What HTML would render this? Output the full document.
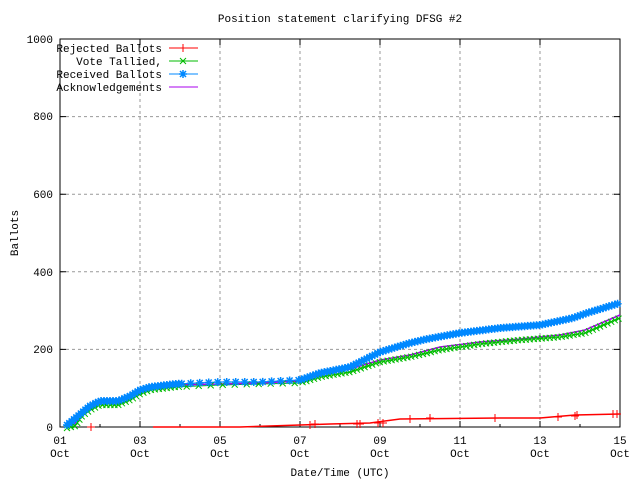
<!DOCTYPE html>
<html><head><style>body{margin:0;background:#fff}svg text{font-family:"Liberation Mono",monospace;font-size:11px}</style></head><body>
<svg id="s" width="640" height="480" xmlns="http://www.w3.org/2000/svg">
<defs>
<g id="pl"><path d="M-4 0H4M0-4V4" stroke="#f00" stroke-width="1"/></g>
<g id="xg"><path d="M-3-3L3 3M-3 3L3-3" stroke="#0b0" stroke-width="1"/></g>
<g id="st"><path d="M-4 0H4M0-4V4M-3-3L3 3M-3 3L3-3" stroke="#08f" stroke-width="1.5"/></g>
</defs>
<g stroke="#999" stroke-dasharray="3,3" stroke-width="1">
<path d="M60 349.4H620M60 271.8H620M60 194.2H620M60 116.6H620"/>
<path d="M140 39V427M220 39V427M300 39V427M380 39V427M460 39V427M540 39V427"/>
</g>
<rect x="60" y="39" width="560" height="388" fill="none" stroke="#000"/>
<g stroke="#000">
<path d="M60 349.4h6M60 271.8h6M60 194.2h6M60 116.6h6M620 349.4h-6M620 271.8h-6M620 194.2h-6M620 116.6h-6"/>
<path d="M140 427v-6M220 427v-6M300 427v-6M380 427v-6M460 427v-6M540 427v-6M140 39v6M220 39v6M300 39v6M380 39v6M460 39v6M540 39v6"/>
<path d="M100 427v-3M180 427v-3M260 427v-3M340 427v-3M420 427v-3M500 427v-3M580 427v-3"/>
</g>
<g text-anchor="end">
<text x="53" y="431">0</text><text x="53" y="353">200</text><text x="53" y="276">400</text><text x="53" y="198">600</text><text x="53" y="120">800</text><text x="53" y="43">1000</text>
</g>
<g text-anchor="middle">
<text x="60" y="444">01</text><text x="140" y="444">03</text><text x="220" y="444">05</text><text x="300" y="444">07</text><text x="380" y="444">09</text><text x="460" y="444">11</text><text x="540" y="444">13</text><text x="620" y="444">15</text>
<text x="60" y="457">Oct</text><text x="140" y="457">Oct</text><text x="220" y="457">Oct</text><text x="300" y="457">Oct</text><text x="380" y="457">Oct</text><text x="460" y="457">Oct</text><text x="540" y="457">Oct</text><text x="620" y="457">Oct</text>
<text x="340" y="476">Date/Time (UTC)</text>
<text x="340" y="22">Position statement clarifying DFSG #2</text>
</g>
<text x="18" y="233" text-anchor="middle" transform="rotate(-90 18 233)">Ballots</text>
<polyline id="pg" fill="none" stroke="#0b0" stroke-width="1" points="67,428 75,426 82,416 90,410 100,405 118,405 130,400 140,394 150,390 175,387 220,385 260,384 300,383 320,377 350,372 380,362 410,357 440,350 480,344 520,340 560,337 585,333 620,318"/>
<polyline id="pb" fill="none" stroke="#08f" stroke-width="1" points="67,425 72,421 78,416 85,410 90,406 100,401 118,401 130,396 140,390 150,387 175,384 220,382 260,382 300,380 320,373 350,367 380,352 410,343 427,339 460,333 500,328 540,325 573,318 587,313 620,303"/>
<polyline fill="none" stroke="#a0e" stroke-width="1.5" points="75,427 75,423 82,415 90,407 100,403 118,403 130,397 140,392 150,388 175,385 220,384 260,383 300,381 320,375 350,369 380,360 410,355 440,347 480,342 520,339 560,335 585,330 620,315"/>
<polyline fill="none" stroke="#f00" stroke-width="1.5" points="153,427 240,427 300,425 330,424 370,423 400,419 500,418 540,418 575,415 620,414"/>
<g id="mk">
<use href="#pl" x="91" y="427"/><use href="#pl" x="310" y="425"/><use href="#pl" x="315" y="424"/><use href="#pl" x="357" y="424"/><use href="#pl" x="360" y="424"/><use href="#pl" x="378" y="423"/><use href="#pl" x="383" y="423"/><use href="#pl" x="410" y="419"/><use href="#pl" x="430" y="418"/><use href="#pl" x="495" y="418"/><use href="#pl" x="558" y="417"/><use href="#pl" x="575" y="416"/><use href="#pl" x="577" y="415"/><use href="#pl" x="613" y="414"/><use href="#pl" x="617" y="414"/>
</g>
<!-- legend -->
<text x="162" y="52" text-anchor="end">Rejected Ballots</text>
<text x="162" y="65" text-anchor="end">Vote Tallied,</text>
<text x="162" y="78" text-anchor="end">Received Ballots</text>
<text x="162" y="91" text-anchor="end">Acknowledgements</text>
<path d="M169 48H198" stroke="#f00"/><use href="#pl" x="183" y="48"/>
<path d="M169 61H198" stroke="#0b0"/><use href="#xg" x="183" y="61"/>
<path d="M169 74H198" stroke="#08f"/><use href="#st" x="183" y="74"/>
<path d="M169 87H198" stroke="#a0e"/>
</svg>
<script>
(function(){
var NS="http://www.w3.org/2000/svg",mk=document.getElementById("mk");
function place(id,ref,step,skipA,skipB){
var p=document.getElementById(id),L=p.getTotalLength();
for(var d=0;d<=L;d+=step){var q=p.getPointAtLength(d);
if(q.x>skipA&&q.x<skipB&&Math.floor(d/step)%3)continue;
var u=document.createElementNS(NS,"use");u.setAttribute("href","#"+ref);
u.setAttribute("x",q.x.toFixed(1));u.setAttribute("y",q.y.toFixed(1));mk.appendChild(u);}
}
place("pg","xg",4,180,300);
place("pb","st",3,180,300);
})();
</script>
</body></html>
